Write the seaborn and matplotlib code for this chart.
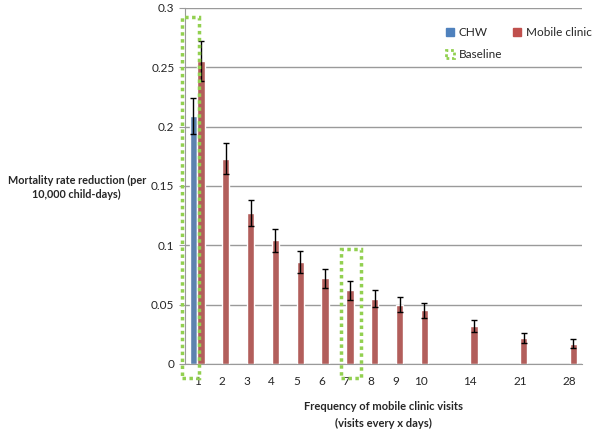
import matplotlib
matplotlib.use("Agg")
import matplotlib.pyplot as plt
from matplotlib.patches import Patch, Rectangle
from matplotlib.ticker import FixedLocator, FuncFormatter
import seaborn as sns
import pandas as pd

# Données
categories = ["1", "2", "3", "4", "5", "6", "7", "8", "9", "10", " ", "14", "  ", "21", "   ", "28"]
mobile_freq = ["1", "2", "3", "4", "5", "6", "7", "8", "9", "10", "14", "21", "28"]
mobile_vals = [0.255, 0.173, 0.127, 0.104, 0.086, 0.072, 0.062, 0.055, 0.050, 0.045, 0.032, 0.022, 0.017]
mobile_err = [0.017, 0.013, 0.011, 0.010, 0.009, 0.008, 0.008, 0.007, 0.006, 0.006, 0.005, 0.004, 0.004]
chw_freq = ["1"]
chw_vals = [0.209]
chw_err = [0.015]

df = pd.concat([
    pd.DataFrame({"freq": chw_freq, "val": chw_vals, "err": chw_err, "type": "CHW"}),
    pd.DataFrame({"freq": mobile_freq, "val": mobile_vals, "err": mobile_err, "type": "Mobile clinic"}),
], ignore_index=True)

sns.set_style("white")
plt.rcParams["font.family"] = ["Lato", "DejaVu Sans"]

blue = "#4F81BD"
red = "#C0504D"
green = "#92D050"
grey = "#9A9A9A"

fig = plt.figure(figsize=(6, 4.4), dpi=100)
ax = fig.add_axes([0.308, 0.173, 0.662, 0.809])

sns.barplot(data=df, x="freq", y="val", hue="type", order=categories,
            hue_order=["CHW", "Mobile clinic"], palette=[blue, red],
            width=0.6, errorbar=None, legend=False, ax=ax, zorder=2)

# Barres d'erreur
for cont, sub in zip(ax.containers, [df[df.type == "CHW"], df[df.type == "Mobile clinic"]]):
    for bar, (_, row) in zip(cont, sub.iterrows()):
        xc = bar.get_x() + bar.get_width() / 2
        ax.errorbar(xc, row.val, yerr=row.err, fmt="none", ecolor="black",
                    elinewidth=1, capsize=2.5, capthick=1, zorder=3)

ax.set_xlim(-0.5, len(categories) - 0.5)
ax.set_ylim(0, 0.3)
ax.yaxis.set_major_locator(FixedLocator([0, 0.05, 0.1, 0.15, 0.2, 0.25, 0.3]))
ax.yaxis.set_major_formatter(FuncFormatter(lambda v, p: f"{v:g}"))
ax.grid(axis="y", color=grey, linewidth=1, zorder=0)
ax.set_axisbelow(True)

for s in ["top", "right"]:
    ax.spines[s].set_visible(False)
ax.spines["left"].set_color(grey)
ax.spines["bottom"].set_color(grey)

ax.tick_params(axis="x", which="major", length=0, labelsize=8.5, pad=9)
ax.xaxis.set_minor_locator(FixedLocator([i + 0.5 for i in range(-1, len(categories))]))
ax.tick_params(axis="x", which="minor", length=4, color=grey, direction="out")
ax.tick_params(axis="y", length=4, color=grey, labelsize=8.5, left=True, direction="out")

ax.set_xlabel("Frequency of mobile clinic visits\n(visits every x days)", fontsize=8,
              fontweight="bold", labelpad=10, linespacing=1.6)
ax.set_ylabel("")
fig.text(0.128, 0.574, "Mortality rate reduction (per\n10,000 child-days)", ha="center",
         va="center", fontsize=7.8, fontweight="bold", linespacing=1.4)

# Cadres "Baseline"
ax.add_patch(Rectangle((-0.6, -0.012), 0.68, 0.304, fill=False, edgecolor=green,
                       linestyle=(0, (1, 1)), linewidth=2.5, clip_on=False, zorder=4))
ax.add_patch(Rectangle((5.8, -0.012), 0.8, 0.109, fill=False, edgecolor=green,
                       linestyle=(0, (1, 1)), linewidth=2.5, clip_on=False, zorder=4))

handles = [Patch(color=blue, label="CHW"),
           Patch(facecolor="none", edgecolor=green, linestyle=(0, (1, 1)), linewidth=2, label="Baseline"),
           Patch(color=red, label="Mobile clinic")]
ax.legend(handles=handles, ncol=2, frameon=False, fontsize=8.5, loc="upper left",
          bbox_to_anchor=(0.63, 0.975), handlelength=0.7, handleheight=0.7,
          columnspacing=0.9, handletextpad=0.4, labelspacing=0.9)

fig.savefig("out.png", dpi=100)
